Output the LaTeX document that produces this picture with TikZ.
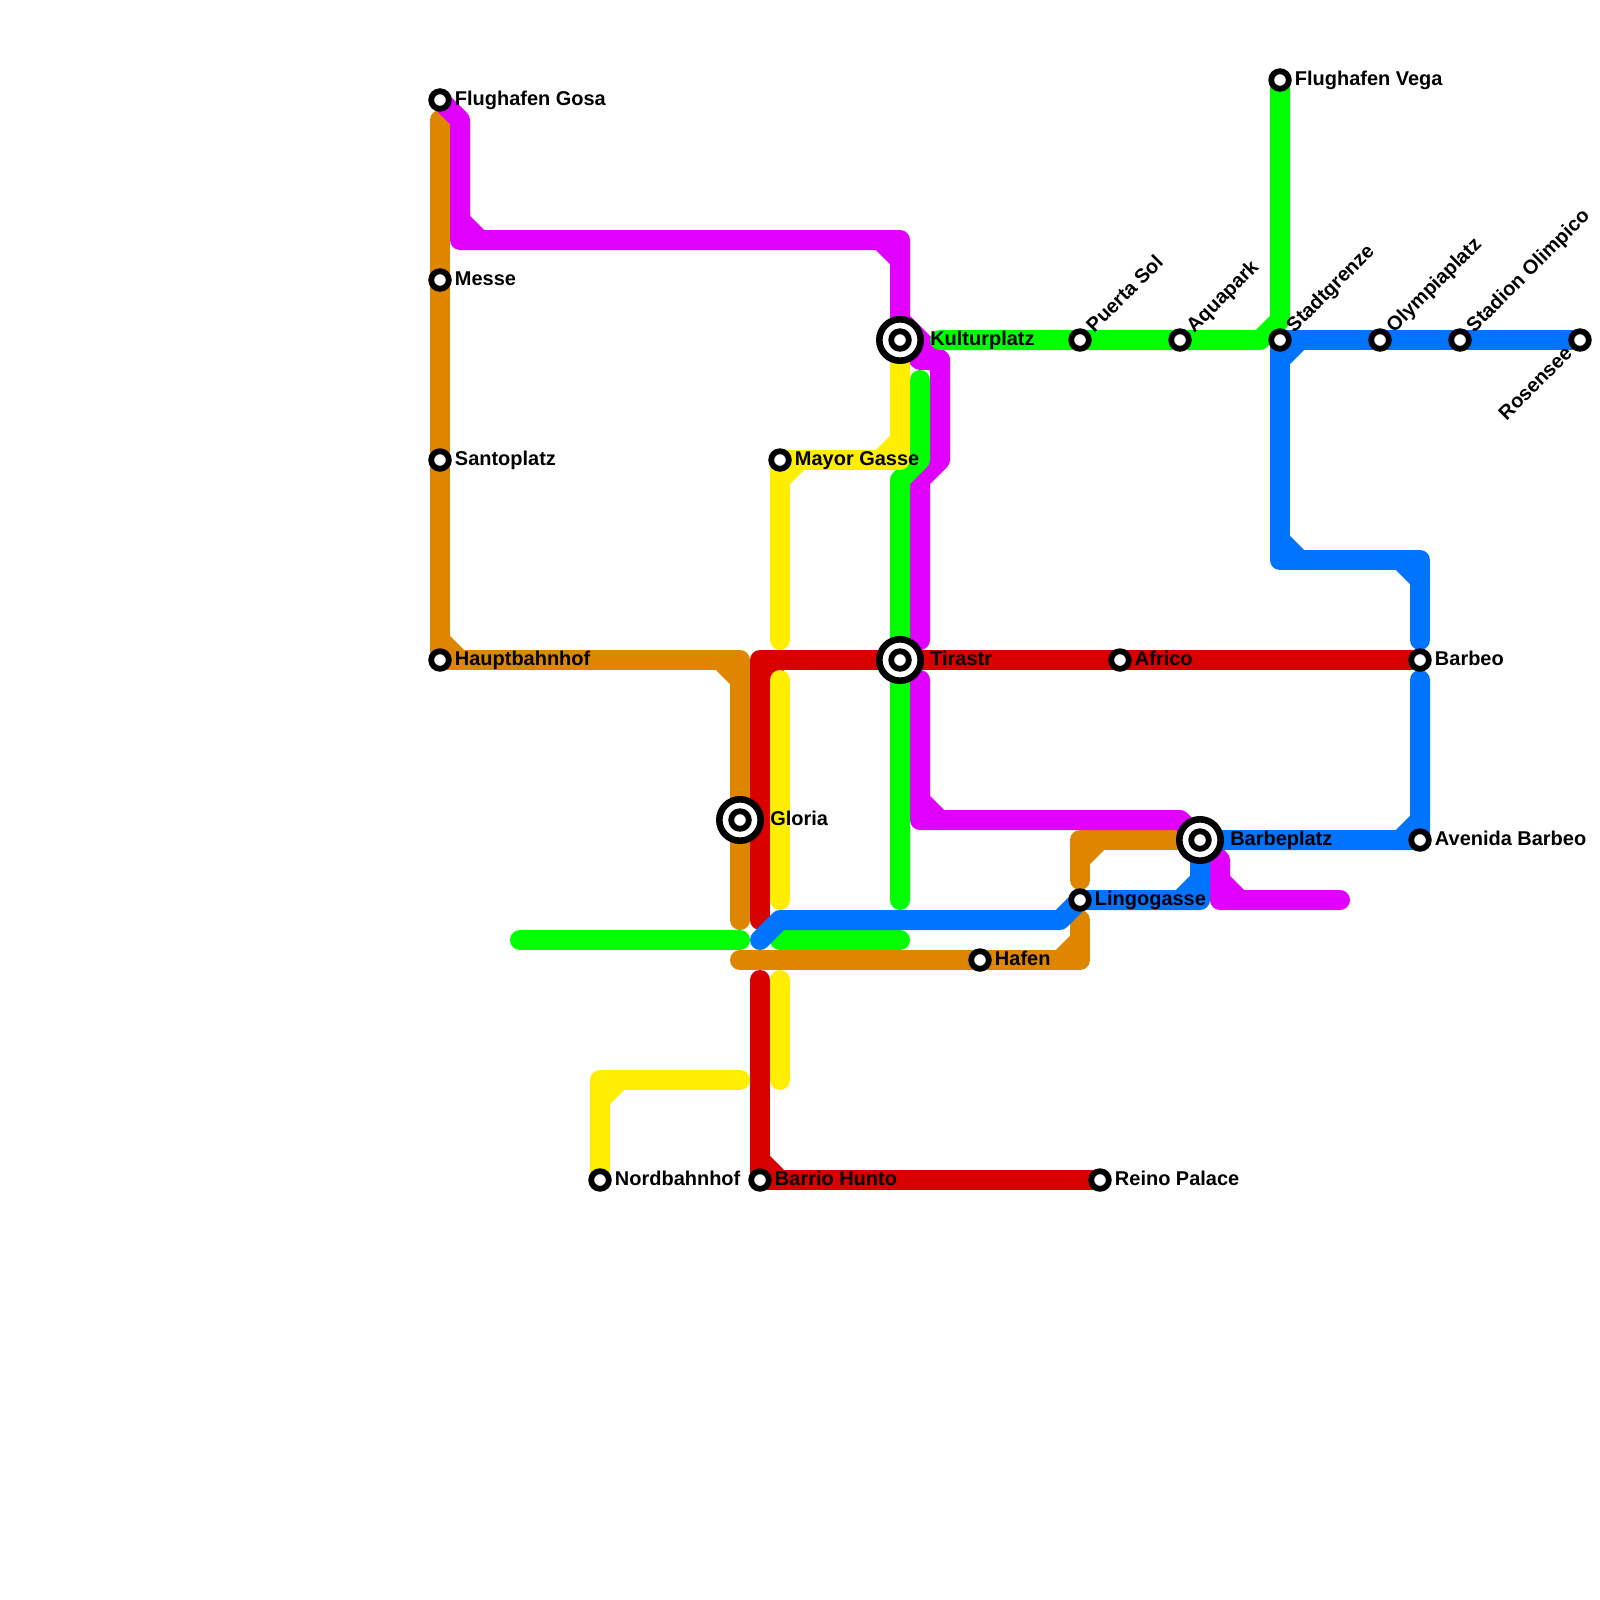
\documentclass[tikz,border=0pt]{standalone}
\usepackage{fontspec}
\setmainfont{Liberation Sans}
\usetikzlibrary{backgrounds,calc}
\definecolor{orangeln}{HTML}{DF8600}
\definecolor{redln}{HTML}{D90000}
\definecolor{yellowln}{HTML}{FFEE00}
\definecolor{greenln}{HTML}{00FF00}
\definecolor{pinkln}{HTML}{E100FF}
\definecolor{blueln}{HTML}{0073FF}
\newcommand{\notch}[4]{\draw[#1] ($(#2)+(#3)$)--($(#2)+(#4)$);}
\begin{document}
\begin{tikzpicture}[x=.5cm,y=-.5cm,
metro/.style={line width=.5cm,line cap=round,line join=round},
lab/.style={font=\bfseries\fontsize{14.2}{16}\selectfont,inner ysep=0pt,inner xsep=.075cm,text height=10.6pt,text depth=2.8pt},
hublab/.style={lab,inner xsep=.15cm},
stop/.style={circle,draw=black,fill=white,line width=.145cm,inner sep=0pt,minimum size=.44cm},
hub/.style={stop,line width=.165cm,minimum size=1.035cm,
  path picture={\draw[line width=.145cm] (path picture bounding box.center) circle (.22cm);}},
orange/.style={metro,draw=orangeln},red/.style={metro,draw=redln},
yellow/.style={metro,draw=yellowln},green/.style={metro,draw=greenln},
pink/.style={metro,draw=pinkln},blue/.style={metro,draw=blueln}]
\useasboundingbox (0,0) rectangle (80,80);
% stations
\node[stop,label={[lab]right:Flughafen Gosa}] (gosa) at (22,5) {};
\node[stop,label={[lab]right:Messe}] (messe) at (22,14) {};
\node[stop,label={[lab]right:Santoplatz}] (santo) at (22,23) {};
\node[stop,label={[lab]right:Hauptbahnhof}] (haupt) at (22,33) {};
\node[stop,label={[lab]right:Nordbahnhof}] (nord) at (30,59) {};
\node[stop,label={[lab]right:Barrio Hunto}] (barrio) at (38,59) {};
\node[stop,label={[lab]right:Reino Palace}] (reino) at (55,59) {};
\node[stop,label={[lab]right:Mayor Gasse}] (mayor) at (39,23) {};
\node[stop,label={[lab]right:Hafen}] (hafen) at (49,48) {};
\node[stop,label={[lab]right:Africo}] (africo) at (56,33) {};
\node[stop,label={[lab]right:Barbeo}] (barbeo) at (71,33) {};
\node[stop,label={[lab]right:Avenida Barbeo}] (avenida) at (71,42) {};
\node[stop,label={[lab]right:Lingogasse}] (lingo) at (54,45) {};
\node[stop,label={[lab]right:Flughafen Vega}] (vega) at (64,4) {};
\node[stop,label={[lab,rotate=45,anchor=west]45:Puerta Sol}] (puerta) at (54,17) {};
\node[stop,label={[lab,rotate=45,anchor=west]45:Aquapark}] (aqua) at (59,17) {};
\node[stop,label={[lab,rotate=45,anchor=west]45:Stadtgrenze}] (stadt) at (64,17) {};
\node[stop,label={[lab,rotate=45,anchor=west]45:Olympiaplatz}] (olympia) at (69,17) {};
\node[stop,label={[lab,rotate=45,anchor=west]45:Stadion Olimpico}] (stadion) at (73,17) {};
\node[stop,label={[lab,rotate=45,anchor=east]225:Rosensee}] (rosen) at (79,17) {};
\node[hub,label={[hublab]right:Gloria}] (gloria) at (37,41) {};
\node[hub,label={[hublab]right:Kulturplatz}] (kultur) at (45,17) {};
\node[hub,label={[hublab]right:Tirastr}] (tira) at (45,33) {};
\node[hub,label={[hublab]right:Barbeplatz}] (barbe) at (60,42) {};
\begin{scope}[on background layer]
% orange
\coordinate (o1) at (22,6); \coordinate (o2) at (37,33); \coordinate (o3) at (37,46);
\coordinate (o4) at (37,48); \coordinate (o5) at (54,48); \coordinate (o6) at (54,46);
\coordinate (o7) at (54,44); \coordinate (o8) at (54,42);
\draw[orange] (o1)--(haupt.center)--(o2)--(gloria.center)--(o3);
\draw[orange] (o4)--(hafen.center)--(o5)--(o6);
\draw[orange] (o7)--(o8)--(barbe.center);
\notch{orange}{haupt.center}{0,-1}{1,0}
\notch{orange}{o2}{-1,0}{0,1}
\notch{orange}{o5}{-1,0}{0,-1}
\notch{orange}{o8}{0,1}{1,0}
% red
\coordinate (r1) at (38,33); \coordinate (r2) at (38,46); \coordinate (r3) at (38,49);
\draw[red] (barbeo.center)--(africo.center)--(tira.center)--(r1)--(r2);
\draw[red] (r3)--(barrio.center)--(reino.center);
\notch{red}{r1}{0,1}{1,0}
\notch{red}{barrio.center}{0,-1}{1,0}
% pink
\coordinate (p1) at (23,6); \coordinate (p2) at (23,12); \coordinate (p3) at (45,12);
\coordinate (p4) at (45,16); \coordinate (p5) at (47,18); \coordinate (p6) at (46,18);
\coordinate (p7) at (47,23); \coordinate (p8) at (46,24); \coordinate (p9) at (46,32);
\coordinate (p10) at (46,34); \coordinate (p11) at (46,41); \coordinate (p12) at (59,41);
\coordinate (p13) at (61,43); \coordinate (p14) at (61,45); \coordinate (p15) at (67,45);
\draw[pink] (gosa.center)--(p1)--(p2)--(p3)--(p4)--(p5)--(p6)--(kultur.center);
\draw[pink] (p5)--(p7)--(p8)--(p9);
\draw[pink] (p10)--(p11)--(p12)--(p13)--(p14)--(p15);
\notch{pink}{p2}{0,-1}{1,0}
\notch{pink}{p3}{-1,0}{0,1}
\notch{pink}{p11}{0,-1}{1,0}
\notch{pink}{p14}{0,-1}{1,0}
% green
\coordinate (g1) at (47,17); \coordinate (g2) at (63,17); \coordinate (g3) at (64,16);
\coordinate (g4) at (46,19); \coordinate (g5) at (46,23); \coordinate (g6) at (45,24);
\coordinate (g7) at (45,45); \coordinate (g8) at (26,47); \coordinate (g9) at (37,47);
\coordinate (g10) at (39,47); \coordinate (g11) at (45,47);
\draw[green] (g1)--(puerta.center)--(aqua.center)--(g2)--(g3)--(vega.center);
\draw[green] (g4)--(g5)--(g6)--(g7);
\draw[green] (g8)--(g9);
\draw[green] (g10)--(g11);
% yellow
\coordinate (y1) at (39,32); \coordinate (y2) at (45,23); \coordinate (y3) at (39,34);
\coordinate (y4) at (39,45); \coordinate (y5) at (39,49); \coordinate (y6) at (39,54);
\coordinate (y7) at (37,54); \coordinate (y8) at (30,54);
\draw[yellow] (y1)--(mayor.center)--(y2)--(kultur.center);
\draw[yellow] (y3)--(y4);
\draw[yellow] (y5)--(y6);
\draw[yellow] (y7)--(y8)--(nord.center);
\notch{yellow}{mayor.center}{0,1}{1,0}
\notch{yellow}{y2}{-1,0}{0,-1}
\notch{yellow}{y8}{0,1}{1,0}
% blue
\coordinate (b1) at (64,28); \coordinate (b2) at (71,28); \coordinate (b3) at (71,32);
\coordinate (b4) at (71,34); \coordinate (b5) at (60,45); \coordinate (b6) at (53,46);
\coordinate (b7) at (39,46); \coordinate (b8) at (38,47);
\draw[blue] (rosen.center)--(stadion.center)--(olympia.center)--(stadt.center)--(b1)--(b2)--(b3);
\draw[blue] (b4)--(avenida.center)--(barbe.center)--(b5)--(lingo.center)--(b6)--(b7)--(b8);
\notch{blue}{stadt.center}{0,1}{1,0}
\notch{blue}{b1}{0,-1}{1,0}
\notch{blue}{b2}{-1,0}{0,1}
\notch{blue}{avenida.center}{0,-1}{-1,0}
\notch{blue}{b5}{-1,0}{0,-1}
\end{scope}
\end{tikzpicture}
\end{document}
